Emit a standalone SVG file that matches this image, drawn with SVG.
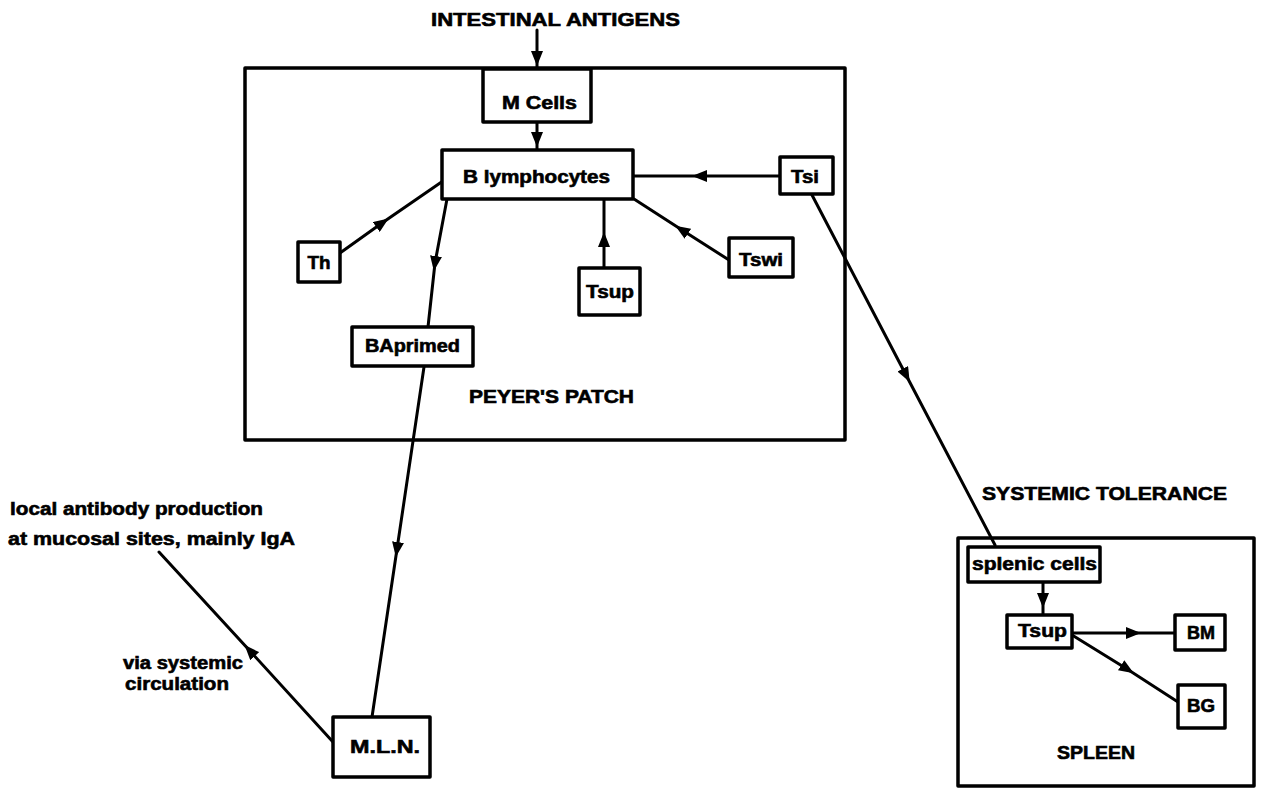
<svg xmlns="http://www.w3.org/2000/svg" width="1266" height="789" viewBox="0 0 1266 789">
<defs>
<marker id="ah" markerUnits="userSpaceOnUse" markerWidth="15" markerHeight="12" refX="7" refY="6" orient="auto" viewBox="0 0 15 12">
<path d="M0,0 L15,6 L0,12 Z" fill="#000"/>
</marker>
</defs>
<style>
.box{fill:#fff;stroke:#000;stroke-width:3.5;stroke-linejoin:round}
.frame{fill:none;stroke:#000;stroke-width:3.5;stroke-linejoin:round}
.c{fill:none;stroke:#000;stroke-width:3;stroke-linecap:round;marker-mid:url(#ah)}
text{font-family:"Liberation Sans","Arial",sans-serif;font-weight:bold;font-size:18px;fill:#000;stroke:#000;stroke-width:0.6}
.m{text-anchor:middle}
</style>
<rect width="1266" height="789" fill="#fff"/>
<g id="peyers-patch">
<rect class="frame" x="245" y="68" width="600" height="372"/>
<text class="m" x="551.5" y="403" textLength="165" lengthAdjust="spacingAndGlyphs">PEYER'S PATCH</text>
</g>
<g id="spleen">
<rect class="frame" x="958" y="538" width="296" height="248"/>
<text class="m" x="1096" y="759" textLength="78" lengthAdjust="spacingAndGlyphs">SPLEEN</text>
</g>
<g id="connectors">
<path class="c" d="M537,30 L537,58 L537,67"/>
<path class="c" d="M537,122 L537,139 L537,150"/>
<path class="c" d="M780,176 L700,176 L633,176"/>
<path class="c" d="M340,253 L382,223 L443,181"/>
<path class="c" d="M604,268 L604,240 L604,199"/>
<path class="c" d="M729,260 L682,230 L634,199"/>
<path class="c" d="M447,199 L435,263 L428,327"/>
<path class="c" d="M424,367 L397,549 L372,717"/>
<path class="c" d="M333,742 L250,651 L159,552"/>
<path class="c" d="M812,195 L906,375 L995,545"/>
<path class="c" d="M1043,582 L1043,600 L1043,615"/>
<path class="c" d="M1072,633 L1133,633 L1175,633"/>
<path class="c" d="M1072,635 L1127,669 L1178,702"/>
</g>
<g id="intestinal-antigens">
<text class="m" x="555.5" y="26" textLength="249" lengthAdjust="spacingAndGlyphs">INTESTINAL ANTIGENS</text>
</g>
<g id="m-cells">
<rect class="box" x="483" y="69" width="108" height="53"/>
<text class="m" x="539.5" y="109" textLength="75" lengthAdjust="spacingAndGlyphs">M Cells</text>
</g>
<g id="b-lymphocytes">
<rect class="box" x="442" y="150" width="191" height="49"/>
<text class="m" x="536.5" y="183" textLength="147" lengthAdjust="spacingAndGlyphs">B lymphocytes</text>
</g>
<g id="tsi">
<rect class="box" x="780" y="157" width="53" height="37"/>
<text class="m" x="805" y="183" textLength="28" lengthAdjust="spacingAndGlyphs">Tsi</text>
</g>
<g id="th">
<rect class="box" x="298" y="242" width="42" height="40"/>
<text class="m" x="319" y="269" textLength="23" lengthAdjust="spacingAndGlyphs">Th</text>
</g>
<g id="tsup-pp">
<rect class="box" x="579" y="268" width="61" height="47"/>
<text class="m" x="610" y="298" textLength="48" lengthAdjust="spacingAndGlyphs">Tsup</text>
</g>
<g id="tswi">
<rect class="box" x="729" y="238" width="64" height="39"/>
<text class="m" x="761" y="266" textLength="44" lengthAdjust="spacingAndGlyphs">Tswi</text>
</g>
<g id="baprimed">
<rect class="box" x="352" y="327" width="121" height="39"/>
<text class="m" x="412.5" y="352" textLength="95" lengthAdjust="spacingAndGlyphs">BAprimed</text>
</g>
<g id="mln">
<rect class="box" x="333" y="717" width="97" height="60"/>
<text class="m" x="385" y="753" textLength="70" lengthAdjust="spacingAndGlyphs">M.L.N.</text>
</g>
<g id="local-antibody">
<text x="10" y="515" textLength="253" lengthAdjust="spacingAndGlyphs">local antibody production</text>
<text x="8" y="545" textLength="287" lengthAdjust="spacingAndGlyphs">at mucosal sites, mainly IgA</text>
</g>
<g id="via-label">
<text x="123" y="669" textLength="120" lengthAdjust="spacingAndGlyphs">via systemic</text>
<text x="125" y="690" textLength="104" lengthAdjust="spacingAndGlyphs">circulation</text>
</g>
<g id="systemic-tolerance">
<text x="982" y="500" textLength="245" lengthAdjust="spacingAndGlyphs">SYSTEMIC TOLERANCE</text>
</g>
<g id="splenic-cells">
<rect class="box" x="968" y="547" width="132" height="35"/>
<text class="m" x="1034.5" y="570" textLength="125" lengthAdjust="spacingAndGlyphs">splenic cells</text>
</g>
<g id="tsup-spleen">
<rect class="box" x="1007" y="615" width="65" height="33"/>
<text class="m" x="1042.5" y="637" textLength="49" lengthAdjust="spacingAndGlyphs">Tsup</text>
</g>
<g id="bm">
<rect class="box" x="1175" y="615" width="50" height="35"/>
<text class="m" x="1201" y="639" textLength="28" lengthAdjust="spacingAndGlyphs">BM</text>
</g>
<g id="bg">
<rect class="box" x="1178" y="685" width="47" height="43"/>
<text class="m" x="1201" y="712" textLength="28" lengthAdjust="spacingAndGlyphs">BG</text>
</g>
</svg>
